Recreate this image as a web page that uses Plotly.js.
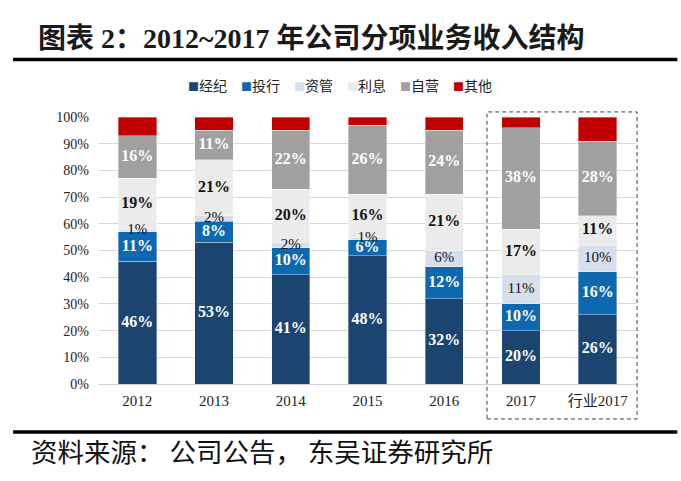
<!DOCTYPE html>
<html>
<head>
<meta charset="utf-8">
<script src="https://cdn.plot.ly/plotly-3.0.1.min.js"></script>
<style>html,body{margin:0;padding:0;background:#fff;}#chart{width:681px;height:481px;}</style>
</head>
<body>
<div id="chart"></div>
<script>
const categories = ['2012','2013','2014','2015','2016','2017','行业2017'];
const seriesNames = ['经纪','投行','资管','利息','自营','其他'];
const brokerage = [46,53,41,48,32,20,26];
const investmentBanking = [11,8,10,6,12,10,16];
const assetManagement = [1,2,2,1,6,11,10];
const interest = [19,21,20,16,21,17,11];
const proprietary = [16,11,22,26,24,38,28];
const other = [7,5,5,3,5,4,9];
const yTicks = [0,10,20,30,40,50,60,70,80,90,100];

const serif = 'Liberation Serif, Times New Roman, Noto Sans CJK SC, serif';
const cjk = 'Noto Sans CJK SC, sans-serif';
const colors = ['#1b4470','#0d68b0','#d7dfec','#ebebeb','#a0a0a0','#c00000'];
const textColors = ['#ffffff','#ffffff','#111111','#111111','#ffffff','#ffffff'];
const weights = ['bold','bold','normal','bold','bold','bold'];
const showLabel = [true,true,true,true,true,false];
const values = [brokerage, investmentBanking, assetManagement, interest, proprietary, other];

const traces = values.map((v, i) => ({
  type: 'bar',
  name: seriesNames[i],
  x: categories,
  y: v,
  marker: {color: colors[i], line: {color: 'rgba(255,255,255,0.6)', width: 0.6}},
  showlegend: false,
  hoverinfo: 'skip'
}));

// data labels on top of all bars, positioned at segment centres
const base = categories.map(() => 0);
values.forEach((v, i) => {
  const mids = v.map((val, j) => base[j] + val / 2);
  v.forEach((val, j) => { base[j] += val; });
  if (!showLabel[i]) return;
  traces.push({
    type: 'scatter', mode: 'text',
    x: categories, y: mids,
    text: v.map(val => val + '%'),
    textposition: 'middle center',
    textfont: {family: serif, size: i === 2 ? 15 : 16, color: textColors[i], weight: weights[i]},
    cliponaxis: false, showlegend: false, hoverinfo: 'skip'
  });
});

const legendText = seriesNames.map((n, i) =>
  '<span style="color:' + colors[i] + ';font-size:11px">■</span>' + n).join('　');

const layout = {
  width: 681, height: 481,
  margin: {l: 99, r: 45, t: 117, b: 97},
  paper_bgcolor: '#ffffff', plot_bgcolor: '#ffffff',
  barmode: 'stack',
  bargap: 0.5,
  showlegend: false,
  title: {text: '<b>图表 2：2012~2017 年公司分项业务收入结构</b>', x: 38/681, xanchor: 'left', xref: 'container',
          y: 1 - 38/481, yanchor: 'middle', yref: 'container',
          font: {family: serif, size: 28, color: '#1a1a1a'}},
  xaxis: {type: 'category', tickfont: {family: serif, size: 15, color: '#222'}, showgrid: false,
          showline: false, ticks: '', ticklabelstandoff: 6, fixedrange: true},
  yaxis: {range: [0, 100], tickvals: yTicks, ticktext: yTicks.map(t => t + '%'),
          tickfont: {family: serif, size: 14, color: '#222'}, gridcolor: '#d9d9d9', gridwidth: 1,
          zeroline: true, zerolinecolor: '#d0d0d0', showline: false, ticks: '',
          ticklabelstandoff: 9, fixedrange: true},
  shapes: [
    {type: 'line', xref: 'paper', yref: 'paper', x0: -0.16, x1: 1.077, y0: 1.215, y1: 1.215,
     line: {color: '#000', width: 3.5}},
    {type: 'line', xref: 'paper', yref: 'paper', x0: -0.16, x1: 1.077, y0: -0.18, y1: -0.18,
     line: {color: '#000', width: 3.5}},
    {type: 'rect', xref: 'paper', yref: 'paper', x0: 0.7225, x1: 1.002, y0: -0.131, y1: 1.019,
     line: {color: '#3a3f55', width: 1, dash: '4px,3px'}, fillcolor: 'rgba(0,0,0,0)'}
  ],
  annotations: [
    {text: legendText, xref: 'paper', yref: 'paper', x: 0.449, y: 1.12,
     xanchor: 'center', yanchor: 'middle', showarrow: false,
     font: {family: cjk, size: 14, color: '#222'}},
    {text: '资料来源： 公司公告， 东吴证券研究所', xref: 'paper', yref: 'paper', x: -0.13, y: -0.25,
     xanchor: 'left', yanchor: 'middle', showarrow: false,
     font: {family: cjk, size: 26.5, color: '#111'}}
  ]
};

Plotly.newPlot('chart', traces, layout, {displayModeBar: false, staticPlot: true});
</script>
</body>
</html>
